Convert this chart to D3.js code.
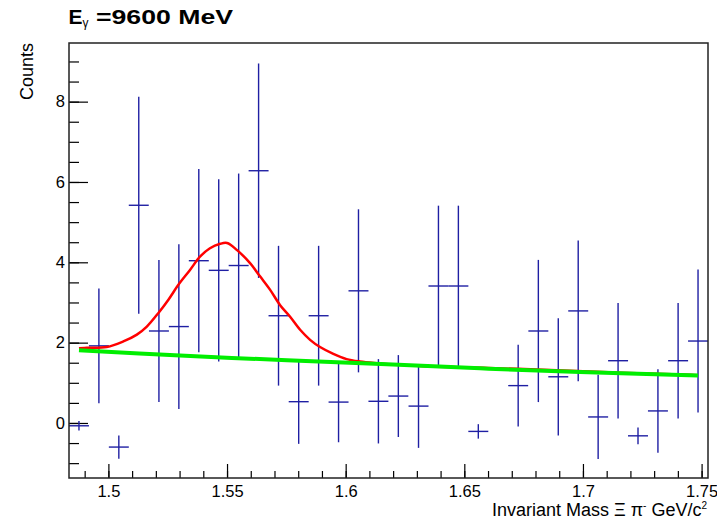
<!DOCTYPE html>
<html>
<head>
<meta charset="utf-8">
<script src="https://cdn.jsdelivr.net/npm/d3@7"></script>
<style>
  body { margin: 0; background: #fff; }
  svg { display: block; font-family: "Liberation Sans", Arial, Helvetica, sans-serif; }
</style>
</head>
<body>
<div id="canvas"></div>
<script>
// histogram bins (centres), contents and errors; null = empty bin
var binCenters = [1.4876, 1.4960, 1.5044, 1.5128, 1.5213, 1.5297, 1.5381, 1.5465,
                  1.5549, 1.5633, 1.5717, 1.5802, 1.5886, 1.5970, 1.6054, 1.6138,
                  1.6222, 1.6307, 1.6391, 1.6475, 1.6559, 1.6643, 1.6727, 1.6812,
                  1.6896, 1.6980, 1.7064, 1.7148, 1.7232, 1.7316, 1.7401, 1.7485];
var binWidth = 0.008416;
var counts = [-0.07, 1.92, -0.60, 5.42, 2.29, 2.40, 4.04, 3.80,
              3.92, 6.28, 2.67, 0.53, 2.67, 0.52, 3.29, 0.54,
              0.67, 0.42, 3.41, 3.41, -0.21, null, 0.93, 2.29,
              1.15, 2.79, 0.15, 1.55, -0.32, 0.30, 1.55, 2.04];
var errors = [0.12, 1.43, 0.29, 2.70, 1.77, 2.05, 2.28, 2.27,
              2.29, 2.67, 1.74, 1.05, 1.74, 1.00, 2.03, 1.05,
              1.02, 1.04, 2.00, 2.00, 0.18, null, 1.02, 1.77,
              1.46, 1.75, 1.05, 1.44, 0.21, 1.04, 1.44, 1.78];

// fit curve (signal + background)
var fitX = [1.4876, 1.4909, 1.4993, 1.5063, 1.5120, 1.5162, 1.5211, 1.5253, 1.5295,
            1.5344, 1.5386, 1.5428, 1.5471, 1.5500, 1.5541, 1.5597, 1.5639, 1.5681,
            1.5723, 1.5765, 1.5808, 1.5850, 1.5892, 1.5948, 1.6004, 1.6060, 1.6131,
            1.6313, 1.6600, 1.6861, 1.7156, 1.7451, 1.7485];
var fitY = [1.86, 1.87, 1.89, 2.03, 2.20, 2.40, 2.74, 3.07, 3.44,
            3.81, 4.14, 4.35, 4.46, 4.48, 4.31, 3.98, 3.65, 3.32,
            2.94, 2.65, 2.32, 2.07, 1.89, 1.72, 1.59, 1.53, 1.49,
            1.42, 1.37, 1.32, 1.25, 1.20, 1.19];

// background component
var bkgX = [1.4876, 1.5302, 1.5753, 1.6174, 1.6566, 1.6987, 1.7485];
var bkgY = [1.81, 1.68, 1.56, 1.46, 1.36, 1.27, 1.18];

var xMajor = [1.5, 1.55, 1.6, 1.65, 1.7, 1.75];
var xLabels = ["1.5", "1.55", "1.6", "1.65", "1.7", "1.75"];
var yMajor = [0, 2, 4, 6, 8];
var yLabels = ["0", "2", "4", "6", "8"];

var width = 717, height = 525;
var padL = 69, padR = 708, padT = 43, padB = 478;

var svg = d3.select("#canvas")
	.append("svg")
	.attr("width", width)
	.attr("height", height);

svg.append("rect")
	.attr("width", width)
	.attr("height", height)
	.attr("fill", "#fff");

var x = d3.scaleLinear().domain([1.4834, 1.7527]).range([padL, padR]);
var y = d3.scaleLinear().domain([-1.37, 9.46]).range([padB, padT]);

// minor ticks
var xMinor = d3.range(149, 176).map(function(d){ return d / 100; });
var yMinor = d3.range(-2, 19).map(function(d){ return d / 2; });

svg.append("g")
	.attr("transform", "translate(0," + padB + ")")
	.call(d3.axisBottom(x).tickValues(xMinor).tickSize(-7).tickFormat(""))
	.call(function(g){ g.select(".domain").remove(); });

svg.append("g")
	.attr("transform", "translate(" + padL + ",0)")
	.call(d3.axisLeft(y).tickValues(yMinor).tickSize(-10).tickFormat(""))
	.call(function(g){ g.select(".domain").remove(); });

// major ticks with labels
var xAxis = svg.append("g")
	.attr("transform", "translate(0," + padB + ")")
	.call(d3.axisBottom(x).tickValues(xMajor).tickSize(-14).tickPadding(7)
		.tickFormat(function(d, i){ return xLabels[i]; }));
xAxis.select(".domain").remove();

var yAxis = svg.append("g")
	.attr("transform", "translate(" + padL + ",0)")
	.call(d3.axisLeft(y).tickValues(yMajor).tickSize(-19).tickPadding(4)
		.tickFormat(function(d, i){ return yLabels[i]; }));
yAxis.select(".domain").remove();

svg.selectAll(".tick line").attr("stroke", "#000").attr("stroke-width", 1.2);
svg.selectAll(".tick text")
	.attr("fill", "#000")
	.style("font-size", "16.5px")
	.style("font-family", "'Liberation Sans', Arial, sans-serif");

// histogram error bars
var pts = binCenters.map(function(c, i){ return {x: c, v: counts[i], e: errors[i]}; })
	.filter(function(d){ return d.v !== null; });

var bars = svg.append("g")
	.attr("stroke", "#1f1fa3")
	.attr("stroke-width", 1.4)
	.attr("fill", "none");

bars.selectAll("line.h")
	.data(pts)
	.enter()
	.append("line")
	.attr("class", "h")
	.attr("x1", function(d){ return x(d.x - binWidth / 2); })
	.attr("x2", function(d){ return x(d.x + binWidth / 2); })
	.attr("y1", function(d){ return y(d.v); })
	.attr("y2", function(d){ return y(d.v); });

bars.selectAll("line.v")
	.data(pts)
	.enter()
	.append("line")
	.attr("class", "v")
	.attr("x1", function(d){ return x(d.x); })
	.attr("x2", function(d){ return x(d.x); })
	.attr("y1", function(d){ return y(d.v - d.e); })
	.attr("y2", function(d){ return y(d.v + d.e); });

// fit curves
var fitLine = d3.line()
	.x(function(d){ return x(d[0]); })
	.y(function(d){ return y(d[1]); })
	.curve(d3.curveCatmullRom);

svg.append("path")
	.datum(fitX.map(function(d, i){ return [d, fitY[i]]; }))
	.attr("d", fitLine)
	.attr("fill", "none")
	.attr("stroke", "#ff0000")
	.attr("stroke-width", 2.5);

svg.append("path")
	.datum(bkgX.map(function(d, i){ return [d, bkgY[i]]; }))
	.attr("d", fitLine)
	.attr("fill", "none")
	.attr("stroke", "#00ee00")
	.attr("stroke-width", 4);

// frame
svg.append("rect")
	.attr("x", padL)
	.attr("y", padT)
	.attr("width", padR - padL)
	.attr("height", padB - padT)
	.attr("fill", "none")
	.attr("stroke", "#222")
	.attr("stroke-width", 1.5);

// title
svg.append("text")
	.attr("x", 68.5)
	.attr("y", 23.5)
	.attr("font-size", 21)
	.attr("font-weight", "bold")
	.text("E");
svg.append("text")
	.attr("x", 82.5)
	.attr("y", 27)
	.attr("font-size", 12)
	.text("γ");
svg.append("text")
	.attr("x", 96)
	.attr("y", 23.5)
	.attr("font-size", 21)
	.attr("font-weight", "bold")
	.attr("textLength", 137)
	.attr("lengthAdjust", "spacingAndGlyphs")
	.text("=9600 MeV");

// axis titles
svg.append("text")
	.attr("transform", "translate(33," + padT + ") rotate(-90)")
	.attr("text-anchor", "end")
	.attr("font-size", 18)
	.text("Counts");

var xt = svg.append("text")
	.attr("x", 707)
	.attr("y", 516)
	.attr("text-anchor", "end")
	.attr("font-size", 18);
xt.append("tspan").text("Invariant Mass Ξ π");
xt.append("tspan").attr("font-size", 10).attr("dy", -7).text("-");
xt.append("tspan").attr("dy", 7).text(" GeV/c");
xt.append("tspan").attr("font-size", 10).attr("dy", -7).text("2");
</script>
</body>
</html>
